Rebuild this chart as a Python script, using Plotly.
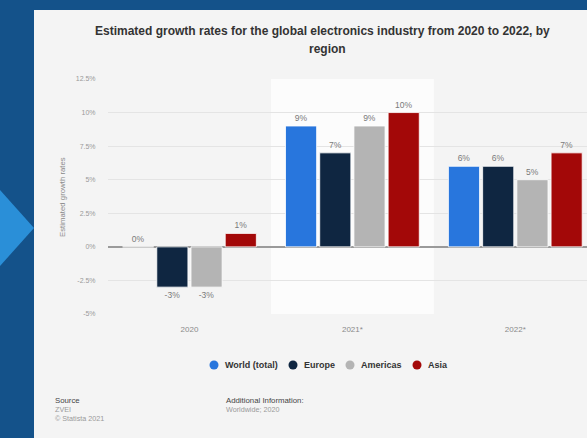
import plotly.graph_objects as go

W, H = 587, 438

categories = ["2020", "2021*", "2022*"]
series_names = ["World (total)", "Europe", "Americas", "Asia"]
world = [0, 9, 6]
europe = [-3, 7, 6]
americas = [-3, 9, 5]
asia = [1, 10, 7]
colors = ["#2876dd", "#0f2641", "#b4b4b4", "#a30808"]
y_tickvals = [-5, -2.5, 0, 2.5, 5, 7.5, 10, 12.5]
y_ticktext = ["-5%", "-2.5%", "0%", "2.5%", "5%", "7.5%", "10%", "12.5%"]
legend_marker_x = [214, 293, 350, 417]

FONT = "Liberation Sans, Arial, sans-serif"

def px(x):
    return x / W

def py(y):
    return (H - y) / H

fig = go.Figure()

for name, vals, col in zip(series_names, [world, europe, americas, asia], colors):
    fig.add_trace(go.Bar(
        x=categories, y=vals, name=name, marker=dict(color=col, line=dict(color="white", width=0.8)),
        text=[f"{v}%" for v in vals], textposition="outside",
        textfont=dict(size=8.5, color="#7a7a7a", family=FONT),
        cliponaxis=False, showlegend=False,
    ))

shapes = [
    # card
    dict(type="rect", xref="paper", yref="paper", x0=px(34), x1=1.02, y0=-0.02, y1=py(10),
         fillcolor="#f4f4f4", line=dict(width=0), layer="below"),
    # triangle
    dict(type="path", xref="paper", yref="paper",
         path=f"M 0,{py(190)} L {px(34)},{py(228)} L 0,{py(266)} Z",
         fillcolor="#2a8fd8", line=dict(width=0), layer="below"),
    # highlighted band
    dict(type="rect", xref="x", yref="y", x0=0.5, x1=1.5, y0=-5, y1=12.5,
         fillcolor="#fcfcfc", line=dict(width=0), layer="below"),
]

annotations = [
    dict(text="Estimated growth rates for the global electronics industry from 2020 to 2022, by",
         xref="paper", yref="paper", x=px(322), y=py(31), showarrow=False,
         font=dict(size=12, color="#333333", family=FONT, weight="bold"), xanchor="center", yanchor="middle"),
    dict(text="region", xref="paper", yref="paper", x=px(327), y=py(49), showarrow=False,
         font=dict(size=12, color="#333333", family=FONT, weight="bold"), xanchor="center", yanchor="middle"),
    dict(text="Estimated growth rates", xref="paper", yref="paper", x=px(63), y=py(197),
         textangle=-90, showarrow=False, font=dict(size=7.8, color="#8a8a8a", family=FONT),
         xanchor="center", yanchor="middle"),
    dict(text="Source", xref="paper", yref="paper", x=px(53), y=py(400), showarrow=False,
         font=dict(size=7.8, color="#444444", family=FONT), xanchor="left", yanchor="middle"),
    dict(text="ZVEI", xref="paper", yref="paper", x=px(53), y=py(409), showarrow=False,
         font=dict(size=7.2, color="#9a9a9a", family=FONT), xanchor="left", yanchor="middle"),
    dict(text="© Statista 2021", xref="paper", yref="paper", x=px(53), y=py(418), showarrow=False,
         font=dict(size=7.2, color="#9a9a9a", family=FONT), xanchor="left", yanchor="middle"),
    dict(text="Additional Information:", xref="paper", yref="paper", x=px(224), y=py(400), showarrow=False,
         font=dict(size=7.8, color="#444444", family=FONT), xanchor="left", yanchor="middle"),
    dict(text="Worldwide; 2020", xref="paper", yref="paper", x=px(224), y=py(409), showarrow=False,
         font=dict(size=7.2, color="#9a9a9a", family=FONT), xanchor="left", yanchor="middle"),
]

# legend (circle marker + label per series)
for name, col, mx in zip(series_names, colors, legend_marker_x):
    shapes.append(dict(type="circle", xref="paper", yref="paper",
                       x0=px(mx - 4.5), x1=px(mx + 4.5), y0=py(365 + 4.5), y1=py(365 - 4.5),
                       fillcolor=col, line=dict(width=0)))
    annotations.append(dict(text=name, xref="paper", yref="paper", x=px(mx + 9), y=py(365),
                            showarrow=False, xanchor="left", yanchor="middle",
                            font=dict(size=9, color="#333333", family=FONT, weight="bold")))

fig.update_layout(
    width=W, height=H,
    margin=dict(l=0, r=0, t=0, b=0, autoexpand=False),
    paper_bgcolor="#14528a", plot_bgcolor="rgba(0,0,0,0)",
    barmode="group", bargap=0.16, bargroupgap=0.09,
    shapes=shapes, annotations=annotations,
    font=dict(family=FONT),
    showlegend=False,
    xaxis=dict(domain=[px(108), 1], range=[-0.5, 2.44], showgrid=False, zeroline=False,
               showline=False, ticks="outside", ticklen=7, tickcolor="rgba(0,0,0,0)",
               tickfont=dict(size=8, color="#8a8a8a", family=FONT), fixedrange=True),
    yaxis=dict(domain=[py(314), py(79)], range=[-5, 12.5], tickvals=y_tickvals, ticktext=y_ticktext,
               showgrid=True, gridcolor="#e4e4e4", gridwidth=1,
               zeroline=True, zerolinecolor="#9a9a9a", zerolinewidth=1.5,
               ticks="outside", ticklen=10, tickcolor="rgba(0,0,0,0)",
               tickfont=dict(size=7, color="#9a9a9a", family=FONT), fixedrange=True),
)

fig.write_html("out.html", config={"displayModeBar": False},
               post_script="document.body.style.margin='0px';document.body.style.overflow='hidden';")
